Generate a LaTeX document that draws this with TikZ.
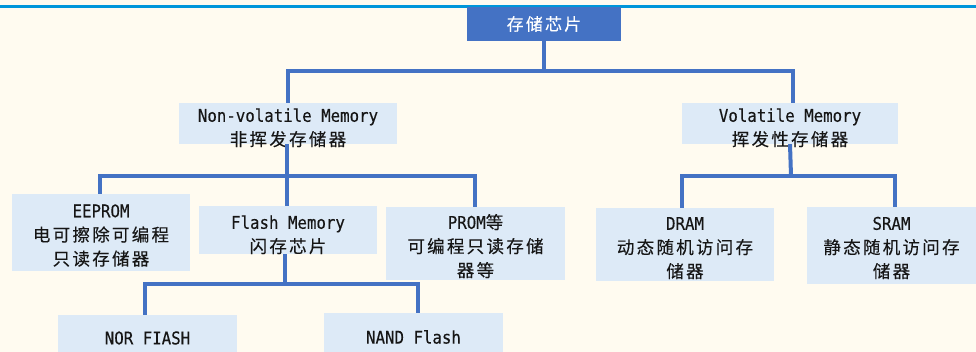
\documentclass[tikz,border=0pt]{standalone}
\usepackage{fontspec}
\newfontfamily\latfont[FakeStretch=0.9, FakeBold=0.3]{DejaVu Sans Mono}
\newfontfamily\cjkfont[LetterSpace=13, FakeBold=0.2]{Noto Sans CJK SC}
\newcommand{\zh}[1]{{\cjkfont #1}}
% invisible strut that adds room above the first line of a box
\newcommand{\toppad}[1]{\rule{0pt}{#1}}
\definecolor{paper}{HTML}{FFFBF0}
\definecolor{boxfill}{HTML}{DDEAF7}
\definecolor{rootblue}{HTML}{4472C4}
\definecolor{linkblue}{HTML}{4472C4}
\definecolor{rulecyan}{HTML}{0096DA}
\definecolor{ink}{HTML}{161616}
\tikzset{
  % negative vertical padding lets minimum height alone fix the box height
  box/.style={rectangle, fill=boxfill, inner xsep=0pt, inner ysep=-12pt,
    align=center, text=ink, font=\latfont\fontsize{17.5}{24}\selectfont},
  rootbox/.style={rectangle, fill=rootblue, inner sep=0pt, align=center, text=white,
    font=\fontsize{17}{24}\selectfont},
  link/.style={draw=linkblue, line width=4pt, line join=miter},
}
\begin{document}
\begin{tikzpicture}[x=1pt, y=-1pt]
\useasboundingbox (0,0) rectangle (976,352);
\clip (0,0) rectangle (976,352);
\fill[paper] (0,0) rectangle (976,352);
% cyan rule along the top edge
\draw[rulecyan, line width=3pt] (0,7) -- (976,7);

% boxes
\node[rootbox, minimum width=154pt, minimum height=34pt] (root) at (544,24) {\zh{存储芯片}};
\node[box, minimum width=218pt, minimum height=41pt] (nv) at (288,123.5)
  {\toppad{22pt}Non-volatile Memory\\\zh{非挥发存储器}};
\node[box, minimum width=216pt, minimum height=41pt] (vol) at (790,123.5)
  {\toppad{22pt}Volatile Memory\\\zh{挥发性存储器}};
\node[box, minimum width=178pt, minimum height=77pt] (eeprom) at (101,232.5)
  {\toppad{19pt}EEPROM\\\zh{电可擦除可编程}\\\zh{只读存储器}};
\node[box, minimum width=178pt, minimum height=48pt] (flash) at (288,230)
  {\toppad{23pt}Flash Memory\\\zh{闪存芯片}};
\node[box, minimum width=179pt, minimum height=73pt] (prom) at (475.5,243.5)
  {\toppad{20pt}PROM\zh{等}\\\zh{可编程只读存储}\\\zh{器等}};
\node[box, minimum width=178pt, minimum height=73pt] (dram) at (685,244.5)
  {\toppad{20pt}DRAM\\\zh{动态随机访问存}\\\zh{储器}};
\node[box, minimum width=169pt, minimum height=77pt] (sram) at (891.5,245.5)
  {\toppad{18pt}SRAM\\\zh{静态随机访问存}\\\zh{储器}};
\node[box, minimum width=179pt, minimum height=46pt] (nor) at (147.5,338)
  {NOR FIASH};
\node[box, minimum width=179pt, minimum height=48pt] (nand) at (413.5,337)
  {NAND Flash};

% branch points
\coordinate (b1) at (544,71);
\coordinate (b2) at (287,176);
\coordinate (b3) at (791,176);
\coordinate (b4) at (285,284);

% connectors
\draw[link] (root.south) -- (b1);
\draw[link] ([xshift=-0.5pt]nv.north) |- (b1) -| ([xshift=2.5pt]vol.north);
\draw[link] ([xshift=-1pt]nv.south) -- ([xshift=-1pt]flash.north);
\draw[link] ([xshift=-1pt]eeprom.north) |- (b2) -| ([xshift=-0.5pt]prom.north);
\draw[link] (vol.south) -- (b3);
\draw[link] ([xshift=-3pt]dram.north) |- (b3) -| ([xshift=3.5pt]sram.north);
\draw[link] ([xshift=-3pt]flash.south) -- (b4);
\draw[link] ([xshift=-2.5pt]nor.north) |- (b4) -| ([xshift=4.5pt]nand.north);
\end{tikzpicture}
\end{document}
